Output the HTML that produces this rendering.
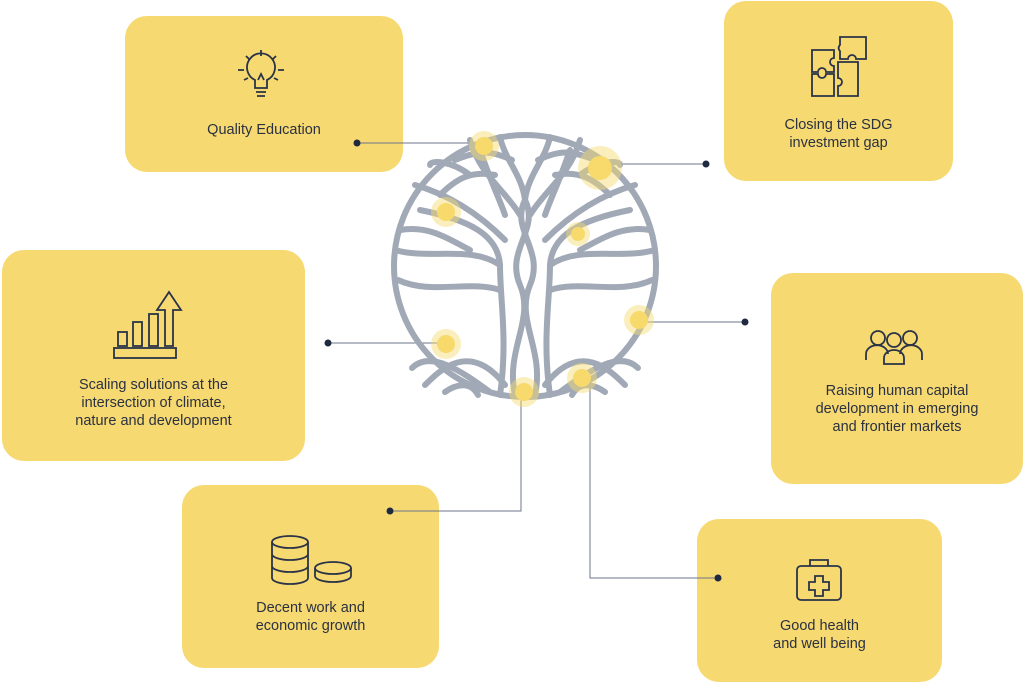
<!DOCTYPE html>
<html><head><meta charset="utf-8"><style>
body{margin:0;width:1024px;height:683px;background:#fff;position:relative;overflow:hidden;font-family:"Liberation Sans",sans-serif}
.b{position:absolute;background:#f7d972;border-radius:22px}
.t{position:absolute;left:0;right:0;text-align:center;color:#2a3140;font-size:14.5px;line-height:18px}
svg{position:absolute;left:0;top:0}
</style></head><body>
<div class="b" style="left:125px;top:16px;width:278px;height:156px"><div class="t" style="top:105px">Quality Education</div></div>
<div class="b" style="left:724px;top:1px;width:229px;height:180px"><div class="t" style="top:115px">Closing the SDG<br>investment gap</div></div>
<div class="b" style="left:2px;top:250px;width:303px;height:211px"><div class="t" style="top:126px">Scaling solutions at the<br>intersection of climate,<br>nature and development</div></div>
<div class="b" style="left:771px;top:273px;width:252px;height:211px"><div class="t" style="top:109px">Raising human capital<br>development in emerging<br>and frontier markets</div></div>
<div class="b" style="left:182px;top:485px;width:257px;height:183px"><div class="t" style="top:114px">Decent work and<br>economic growth</div></div>
<div class="b" style="left:697px;top:519px;width:245px;height:163px"><div class="t" style="top:98px">Good health<br>and well being</div></div>
<svg width="1024" height="683" viewBox="0 0 1024 683">
<g fill="none" stroke="#2a3348" stroke-width="1.8">
<path d="M255 88 v-8 a14 14 0 1 1 12 0 v8 z M256 92 h10 M257 96 h8 M258 80 l3-6 3 6"/>
<path d="M261 50 v6 M246 56 l4 4 M276 56 l-4 4 M238 70 h6 M278 70 h6 M244 80 l4-2 M278 80 l-4-2"/>
<path d="M812 50 h22 v8 a4 4 0 0 0 0 8 v6 h-8 a4 4 0 0 0 -8 0 h-6 z"/>
<path d="M840 37 h26 v22 h-10 a4 4 0 0 0 -8 0 h-8 v-8 a4 4 0 0 1 0 -6 z"/>
<path d="M812 74 h6 a4 4 0 0 0 8 0 h8 v22 h-22 z"/>
<path d="M838 62 h20 v34 h-20 v-10 a4 4 0 0 0 0 -8 z"/>
<rect x="114" y="348" width="62" height="10"/><rect x="118" y="332" width="9" height="14"/><rect x="133" y="322" width="9" height="24"/><rect x="149" y="314" width="9" height="32"/>
<path d="M165 346 v-36 h-8 l12-18 12 18 h-8 v36 z"/>
<circle cx="878" cy="338" r="7"/><circle cx="894" cy="340" r="7"/><circle cx="910" cy="338" r="7"/>
<path d="M866 360 v-6 a10 8 0 0 1 22 0 M884 364 v-6 a10 8 0 0 1 20 0 v6 z M900 354 a10 8 0 0 1 22 0 v6"/>
<ellipse cx="290" cy="542" rx="18" ry="6"/><path d="M272 542 v36 a18 6 0 0 0 36 0 v-36 M272 554 a18 6 0 0 0 36 0 M272 566 a18 6 0 0 0 36 0"/>
<ellipse cx="333" cy="568" rx="18" ry="6"/><path d="M315 568 v8 a18 6 0 0 0 36 0 v-8"/>
<rect x="797" y="566" width="44" height="34" rx="4"/><path d="M810 566 v-6 h18 v6 M815 576 h8 v6 h6 v8 h-6 v6 h-8 v-6 h-6 v-8 h6 z"/>
</g>
<g stroke="#6b7488" stroke-width="1" fill="none">
<path d="M357 143 H484 M600 164 H706 M328 343 H445 M638 322 H745 M390 511 H521 V392 M718 578 H590 V383"/>
</g>
<g fill="#1f2a40"><circle cx="357" cy="143" r="3.5"/><circle cx="706" cy="164" r="3.5"/><circle cx="328" cy="343" r="3.5"/><circle cx="745" cy="322" r="3.5"/><circle cx="390" cy="511" r="3.5"/><circle cx="718" cy="578" r="3.5"/></g>
<g fill="none" stroke="#a1a9b6" stroke-width="6" stroke-linecap="round">
<circle cx="525" cy="266" r="131"/>
<!-- trunk strands -->
<path d="M500 395 C508 340 500 300 500 265 C498 235 470 220 420 210"/>
<path d="M550 395 C542 340 550 300 550 265 C552 235 580 220 630 210"/>
<path d="M515 395 C505 350 535 320 520 285 C505 250 540 230 525 200"/>
<path d="M535 395 C545 350 515 320 530 285 C545 250 510 230 525 200"/>
<path d="M490 392 C460 370 430 350 412 368 M560 392 C590 370 620 350 638 368"/>
<path d="M505 385 C470 340 440 370 425 385 M545 385 C580 340 610 370 625 385"/>
<path d="M478 395 C470 380 455 385 445 392 M572 395 C580 380 595 385 605 392"/>
<!-- canopy -->
<path d="M500 265 C470 245 430 260 395 250 M550 265 C580 245 620 260 655 250"/>
<path d="M398 280 C430 295 470 280 500 290 M652 280 C620 295 580 280 550 290"/>
<path d="M520 215 C505 190 480 175 470 140 M530 215 C545 190 570 175 580 140"/>
<path d="M505 240 C480 215 450 195 415 185 M545 240 C570 215 600 195 635 185"/>
<path d="M525 200 C522 175 505 160 500 137 M525 200 C528 175 545 160 550 137"/>
<path d="M470 175 C450 160 430 160 430 165 M580 175 C600 160 620 160 620 165"/>
<path d="M495 175 C470 170 455 180 440 195 M555 175 C580 170 595 180 610 195"/>
<path d="M455 160 C480 150 490 150 512 160 M595 160 C570 150 560 150 538 160"/>
<path d="M400 230 C430 225 450 240 470 250 M650 230 C620 225 600 240 580 250"/>
<path d="M480 150 C490 180 500 200 505 215 M570 150 C560 180 550 200 545 215"/>
</g>
<g fill="#f7d96c">
<circle cx="484" cy="146" r="15" opacity=".45"/><circle cx="484" cy="146" r="9"/>
<circle cx="600" cy="168" r="22" opacity=".45"/><circle cx="600" cy="168" r="12"/>
<circle cx="446" cy="212" r="15" opacity=".45"/><circle cx="446" cy="212" r="9"/>
<circle cx="578" cy="234" r="12" opacity=".45"/><circle cx="578" cy="234" r="7"/>
<circle cx="639" cy="320" r="15" opacity=".45"/><circle cx="639" cy="320" r="9"/>
<circle cx="446" cy="344" r="15" opacity=".45"/><circle cx="446" cy="344" r="9"/>
<circle cx="582" cy="378" r="15" opacity=".45"/><circle cx="582" cy="378" r="9"/>
<circle cx="524" cy="392" r="15" opacity=".45"/><circle cx="524" cy="392" r="9"/>
</g>
</svg>
</body></html>
